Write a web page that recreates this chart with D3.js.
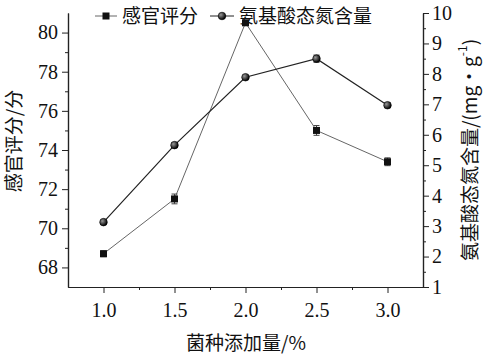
<!DOCTYPE html>
<html>
<head>
<meta charset="utf-8">
<script src="https://cdn.jsdelivr.net/npm/d3@7"></script>
<style>
  html, body { margin: 0; padding: 0; background: #fff; }
  svg { display: block; }
</style>
</head>
<body>
<div id="chart"></div>
<script>
// ---- data ----
const doses = [1.0, 1.5, 2.0, 2.5, 3.0];
const sensoryScore = [68.7, 71.5, 80.5, 75.0, 73.4];
const sensoryErr = [0.15, 0.25, 0.1, 0.25, 0.2];
const aminoN = [3.13, 5.66, 7.89, 8.5, 6.97];
const aminoErr = [0.06, 0.08, 0.06, 0.12, 0.08];
const xTicks = [1.0, 1.5, 2.0, 2.5, 3.0];
const leftTicks = [68, 70, 72, 74, 76, 78, 80];
const rightTicks = [1, 2, 3, 4, 5, 6, 7, 8, 9, 10];
const seriesNames = ["感官评分", "氨基酸态氮含量"];
const xTitle = "菌种添加量/%";
const leftTitle = "感官评分/分";
const rightTitle = "氨基酸态氮含量/(mg•g";

const W = 488, H = 356;
const svg = d3.select("#chart").append("svg").attr("width", W).attr("height", H);
svg.append("rect").attr("width", W).attr("height", H).attr("fill", "#fff");

const defs = svg.append("defs");
const grad = defs.append("radialGradient").attr("id", "ball").attr("cx", "35%").attr("cy", "35%").attr("r", "65%");
grad.append("stop").attr("offset", "0%").attr("stop-color", "#999");
grad.append("stop").attr("offset", "100%").attr("stop-color", "#000");

const x = d3.scaleLinear().domain([0.75, 3.25]).range([68, 423]);
const yL = d3.scaleLinear().domain([67, 81]).range([287, 13]);
const yR = d3.scaleLinear().domain([1, 10]).range([287, 13]);

const serif = "'Liberation Serif', 'Times New Roman', serif";
const cjk = "'Noto Sans CJK SC', sans-serif";

function styleAxis(g) {
  g.selectAll("path.domain").attr("stroke", "#222").attr("stroke-width", 1.2);
  g.selectAll(".tick line").attr("stroke", "#222").attr("stroke-width", 1);
  g.selectAll("text").attr("font-family", serif).attr("font-size", 20).attr("fill", "#111");
}

// minor ticks
const xMinor = [1.25, 1.75, 2.25, 2.75];
const lMinor = [69, 71, 73, 75, 77, 79];
const rMinor = [1.5, 2.5, 3.5, 4.5, 5.5, 6.5, 7.5, 8.5, 9.5];

const gxMinor = svg.append("g").attr("transform", "translate(0,287)")
  .call(d3.axisBottom(x).tickValues(xMinor).tickSize(3).tickSizeOuter(0).tickFormat(""));
const gx = svg.append("g").attr("transform", "translate(0,287)")
  .call(d3.axisBottom(x).tickValues(xTicks).tickSize(6).tickSizeOuter(0).tickPadding(10).tickFormat(d3.format(".1f")));
const glMinor = svg.append("g").attr("transform", "translate(68,0)")
  .call(d3.axisLeft(yL).tickValues(lMinor).tickSize(3).tickSizeOuter(0).tickFormat(""));
const gl = svg.append("g").attr("transform", "translate(68,0)")
  .call(d3.axisLeft(yL).tickValues(leftTicks).tickSize(6).tickSizeOuter(0).tickPadding(4));
const grMinor = svg.append("g").attr("transform", "translate(423,0)")
  .call(d3.axisRight(yR).tickValues(rMinor).tickSize(3).tickSizeOuter(0).tickFormat(""));
const gr = svg.append("g").attr("transform", "translate(423,0)")
  .call(d3.axisRight(yR).tickValues(rightTicks).tickSize(6).tickSizeOuter(0).tickPadding(3));
[gxMinor, gx, glMinor, gl, grMinor, gr].forEach(styleAxis);

// axis titles
svg.append("text").attr("x", 246).attr("y", 345).attr("dominant-baseline", "middle").attr("text-anchor", "middle")
  .attr("font-family", cjk).attr("font-size", 19).attr("fill", "#111").text(xTitle);
svg.append("text").attr("transform", "translate(16,141) rotate(-90)").attr("dominant-baseline", "middle").attr("text-anchor", "middle")
  .attr("font-family", cjk).attr("font-size", 19).attr("fill", "#111").text(leftTitle);
const rt = svg.append("text").attr("transform", "translate(472,150) rotate(-90)").attr("dominant-baseline", "middle").attr("text-anchor", "middle")
  .attr("font-family", cjk).attr("font-size", 19).attr("fill", "#111");
rt.append("tspan").text(rightTitle);
rt.append("tspan").attr("font-size", 12).attr("dy", -8).text("-1");
rt.append("tspan").attr("dy", 8).text(")");

// series
const sData = doses.map((d, i) => ({ x: d, y: sensoryScore[i], e: sensoryErr[i] }));
const aData = doses.map((d, i) => ({ x: d, y: aminoN[i], e: aminoErr[i] }));

const lineS = d3.line().x(d => x(d.x)).y(d => yL(d.y));
const lineA = d3.line().x(d => x(d.x)).y(d => yR(d.y));

svg.append("path").datum(sData).attr("d", lineS).attr("fill", "none").attr("stroke", "#666").attr("stroke-width", 1);
svg.append("path").datum(aData).attr("d", lineA).attr("fill", "none").attr("stroke", "#222").attr("stroke-width", 1.2);

function errBars(data, y, color) {
  const g = svg.append("g").attr("stroke", color).attr("stroke-width", 1);
  data.forEach(d => {
    const x0 = x(d.x), y1 = y(d.y - d.e), y2 = y(d.y + d.e);
    g.append("line").attr("x1", x0).attr("x2", x0).attr("y1", y1).attr("y2", y2);
    g.append("line").attr("x1", x0 - 3).attr("x2", x0 + 3).attr("y1", y1).attr("y2", y1);
    g.append("line").attr("x1", x0 - 3).attr("x2", x0 + 3).attr("y1", y2).attr("y2", y2);
  });
}
errBars(sData, yL, "#444");
errBars(aData, yR, "#444");

svg.append("g").selectAll("rect").data(sData).join("rect")
  .attr("x", d => x(d.x) - 3.5).attr("y", d => yL(d.y) - 3.5).attr("width", 7).attr("height", 7).attr("fill", "#111");
svg.append("g").selectAll("circle").data(aData).join("circle")
  .attr("cx", d => x(d.x)).attr("cy", d => yR(d.y)).attr("r", 3.8).attr("fill", "url(#ball)").attr("stroke", "#000").attr("stroke-width", 0.6);

// legend
const lg = svg.append("g");
const ly = 16, lb = 23;
lg.append("line").attr("x1", 95).attr("x2", 117).attr("y1", ly).attr("y2", ly).attr("stroke", "#666");
lg.append("rect").attr("x", 102.5).attr("y", ly - 3.5).attr("width", 7).attr("height", 7).attr("fill", "#111");
lg.append("text").attr("x", 122).attr("y", lb).attr("font-family", cjk).attr("font-size", 19).attr("fill", "#111").text(seriesNames[0]);
lg.append("line").attr("x1", 210).attr("x2", 234).attr("y1", ly).attr("y2", ly).attr("stroke", "#222");
lg.append("circle").attr("cx", 222).attr("cy", ly).attr("r", 3.8).attr("fill", "url(#ball)").attr("stroke", "#000").attr("stroke-width", 0.6);
lg.append("text").attr("x", 239).attr("y", lb).attr("font-family", cjk).attr("font-size", 19).attr("fill", "#111").text(seriesNames[1]);
</script>
</body>
</html>
